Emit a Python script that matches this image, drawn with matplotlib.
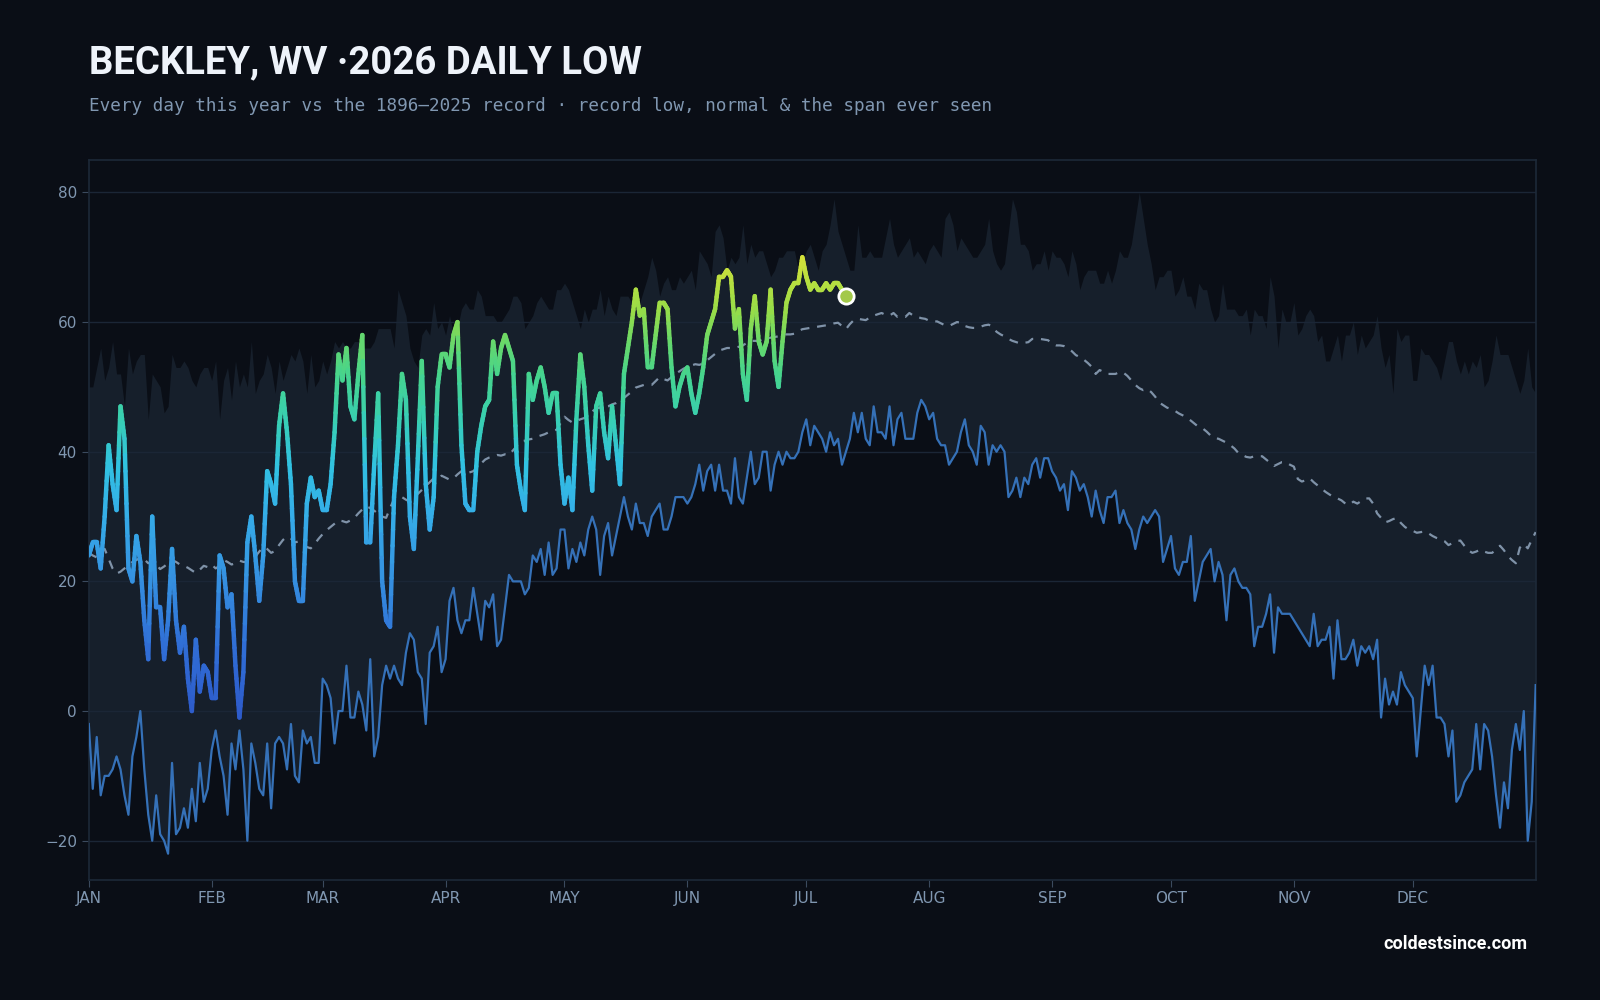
import matplotlib
matplotlib.use('Agg')
import matplotlib.pyplot as plt
import numpy as np
from matplotlib.collections import LineCollection
from matplotlib.colors import LinearSegmentedColormap, Normalize

# record lows by calendar day (1896-2025)
record_low = [
    -2, -12, -4, -13, -10, -10, -9, -7, -9, -13,
    -16, -7, -4, 0, -9, -16, -20, -13, -19, -20,
    -22, -8, -19, -18, -15, -18, -12, -17, -8, -14,
    -12, -6, -3, -7, -10, -16, -5, -9, -3, -9,
    -20, -5, -8, -12, -13, -5, -15, -5, -4, -5,
    -9, -2, -10, -11, -3, -5, -4, -8, -8, 5,
    4, 2, -5, 0, 0, 7, -1, -1, 3, 1,
    -3, 8, -7, -4, 4, 7, 5, 7, 5, 4,
    9, 12, 11, 6, 5, -2, 9, 10, 13, 6,
    8, 17, 19, 14, 12, 14, 14, 19, 15, 11,
    17, 16, 18, 10, 11, 16, 21, 20, 20, 20,
    18, 19, 24, 23, 25, 21, 26, 21, 22, 28,
    28, 22, 25, 23, 26, 24, 28, 30, 28, 21,
    27, 29, 24, 27, 30, 33, 30, 28, 32, 29,
    29, 27, 30, 31, 32, 28, 28, 30, 33, 33,
    33, 32, 33, 35, 38, 34, 37, 38, 34, 38,
    34, 34, 32, 39, 33, 32, 36, 40, 35, 36,
    40, 40, 34, 38, 40, 38, 40, 39, 39, 40,
    43, 45, 41, 44, 43, 42, 40, 43, 41, 42,
    38, 40, 42, 46, 43, 46, 42, 41, 47, 43,
    43, 42, 47, 41, 45, 46, 42, 42, 42, 46,
    48, 47, 45, 46, 42, 41, 41, 38, 39, 40,
    43, 45, 41, 40, 38, 44, 43, 38, 41, 40,
    41, 40, 33, 34, 36, 33, 36, 35, 38, 39,
    36, 39, 39, 37, 36, 34, 35, 31, 37, 36,
    34, 35, 33, 30, 34, 31, 29, 33, 33, 34,
    29, 31, 29, 28, 25, 28, 30, 29, 30, 31,
    30, 23, 25, 27, 22, 21, 23, 23, 27, 17,
    20, 23, 24, 25, 20, 23, 21, 14, 21, 22,
    20, 19, 19, 18, 10, 13, 13, 15, 18, 9,
    16, 15, 15, 15, 14, 13, 12, 11, 10, 15,
    10, 11, 11, 13, 5, 14, 8, 8, 9, 11,
    7, 10, 9, 10, 8, 11, -1, 5, 1, 3,
    1, 6, 4, 3, 2, -7, 0, 7, 4, 7,
    -1, -1, -2, -7, -3, -14, -13, -11, -10, -9,
    -2, -9, -2, -3, -7, -13, -18, -11, -15, -6,
    -2, -6, 0, -20, -14, 4,
]

# record highs of the daily low
record_high = [
    50, 50, 53, 56, 51, 53, 57, 52, 52, 47,
    56, 52, 54, 55, 55, 45, 52, 51, 50, 46,
    47, 55, 53, 53, 54, 53, 51, 50, 52, 53,
    53, 51, 54, 45, 51, 53, 48, 54, 50, 52,
    50, 57, 49, 51, 52, 55, 53, 49, 54, 51,
    53, 55, 54, 56, 54, 49, 55, 50, 51, 54,
    52, 54, 57, 56, 57, 56, 56, 57, 57, 56,
    56, 56, 57, 59, 59, 59, 59, 56, 65, 63,
    61, 56, 54, 53, 58, 59, 58, 63, 59, 60,
    58, 61, 58, 59, 62, 63, 62, 62, 65, 64,
    61, 61, 61, 60, 60, 61, 62, 64, 64, 63,
    59, 60, 61, 63, 64, 63, 62, 62, 65, 65,
    66, 65, 63, 61, 59, 62, 60, 62, 62, 65,
    61, 64, 62, 61, 64, 64, 64, 63, 62, 63,
    65, 67, 70, 68, 64, 66, 67, 65, 65, 67,
    66, 67, 68, 65, 71, 70, 69, 67, 74, 75,
    73, 68, 70, 69, 70, 75, 69, 72, 70, 71,
    71, 69, 67, 68, 70, 70, 71, 71, 71, 68,
    69, 71, 72, 70, 68, 71, 72, 75, 79, 74,
    72, 70, 68, 68, 75, 70, 70, 71, 70, 70,
    70, 73, 76, 72, 70, 71, 72, 73, 70, 71,
    70, 69, 71, 72, 71, 70, 76, 77, 75, 71,
    73, 72, 71, 70, 70, 71, 72, 76, 71, 69,
    68, 69, 74, 79, 77, 72, 72, 71, 68, 69,
    69, 71, 68, 71, 70, 70, 69, 67, 71, 69,
    65, 67, 68, 68, 68, 66, 66, 68, 66, 68,
    71, 70, 70, 72, 76, 80, 76, 72, 69, 65,
    67, 67, 68, 68, 64, 65, 67, 64, 64, 62,
    66, 65, 65, 62, 60, 61, 66, 62, 62, 62,
    61, 61, 62, 58, 62, 61, 61, 59, 67, 64,
    56, 62, 60, 60, 63, 58, 59, 61, 62, 61,
    57, 58, 54, 54, 56, 58, 54, 58, 58, 60,
    55, 58, 56, 57, 58, 61, 56, 53, 55, 49,
    59, 57, 58, 58, 51, 51, 56, 55, 55, 54,
    53, 51, 54, 57, 57, 54, 52, 54, 52, 54,
    53, 55, 50, 51, 54, 58, 55, 55, 55, 53,
    51, 49, 51, 56, 50, 49,
]

# normal daily low
normal = [
    24.4, 24.0, 23.7, 24.5, 25.0, 23.5, 22.0, 21.2, 21.5, 22.0,
    22.4, 23.0, 23.3, 23.6, 23.4, 22.8, 23.1, 22.6, 21.9, 22.3,
    22.8, 23.3, 23.0, 22.6, 22.4, 22.1, 21.7, 21.3, 21.8, 22.4,
    22.2, 22.6, 22.0, 22.4, 23.3, 23.0, 22.6, 22.8, 23.2, 23.0,
    23.0, 23.4, 23.8, 24.6, 25.3, 25.0, 24.4, 24.7, 25.6, 26.4,
    26.9, 26.6, 26.0, 26.2, 25.8, 25.3, 25.1, 25.8, 26.6, 27.3,
    27.9, 28.4, 28.9, 29.4, 29.3, 29.1, 29.4, 29.8, 30.5, 31.1,
    31.6, 31.3, 30.9, 30.4, 30.0, 29.8, 31.3, 32.7, 32.9, 33.0,
    32.6, 32.3, 32.9, 33.5, 34.1, 34.7, 35.3, 35.9, 35.8, 36.3,
    36.0, 35.7, 35.9, 36.5, 37.0, 37.1, 36.8, 37.0, 37.6, 38.2,
    38.8, 39.1, 39.3, 39.5, 39.4, 39.6, 39.5, 40.2, 40.9, 41.6,
    41.7, 41.9, 42.0, 42.3, 42.5, 42.7, 43.0, 43.2, 43.4, 44.4,
    45.4, 44.9, 44.5, 44.7, 45.0, 45.2, 45.7, 46.2, 46.7, 46.8,
    46.9, 47.0, 47.3, 47.5, 47.9, 48.3, 48.8, 49.3, 49.9, 50.1,
    50.3, 50.3, 50.3, 50.9, 51.5, 51.2, 51.0, 51.5, 52.0, 52.4,
    52.8, 53.1, 53.3, 53.5, 53.4, 53.6, 54.1, 54.6, 55.1, 55.6,
    55.8, 56.0, 56.0, 56.0, 56.2, 56.4, 56.8, 57.1, 57.1, 57.1,
    57.3, 57.4, 57.6, 57.7, 57.8, 58.0, 58.1, 58.1, 58.2, 58.6,
    58.9, 59.0, 59.1, 59.2, 59.3, 59.4, 59.5, 59.6, 59.8, 59.9,
    59.4, 58.9, 59.7, 60.3, 60.5, 60.4, 60.3, 60.7, 61.0, 61.2,
    61.4, 61.1, 61.0, 61.4, 60.8, 60.9, 60.8, 61.4, 61.0, 60.8,
    60.6, 60.5, 60.2, 60.1, 60.1, 59.8, 59.5, 59.4, 59.7, 60.0,
    59.9, 59.4, 59.2, 59.1, 59.1, 59.3, 59.5, 59.6, 59.3, 58.5,
    58.1, 57.8, 57.4, 57.1, 56.9, 56.7, 56.8, 56.9, 57.4, 57.4,
    57.4, 57.3, 57.2, 56.6, 56.4, 56.4, 56.3, 56.0, 55.5, 54.9,
    54.6, 54.2, 53.7, 53.1, 52.0, 52.6, 52.3, 52.0, 52.0, 52.0,
    52.3, 52.2, 51.7, 51.0, 50.3, 49.8, 49.5, 49.7, 49.2, 48.5,
    47.6, 47.2, 46.8, 46.6, 46.3, 45.9, 45.6, 45.2, 44.8, 44.3,
    43.8, 43.6, 43.1, 42.5, 42.1, 42.0, 41.7, 41.4, 41.0, 40.5,
    39.8, 39.5, 39.2, 39.1, 39.3, 39.3, 39.3, 38.8, 38.3, 37.8,
    38.1, 38.4, 38.4, 38.0, 37.7, 35.8, 35.4, 35.6, 35.9, 35.3,
    34.8, 34.3, 33.8, 33.4, 33.0, 32.8, 32.5, 32.0, 31.8, 32.3,
    32.0, 32.4, 32.8, 32.8, 32.0, 30.5, 29.8, 29.1, 29.3, 29.6,
    29.8, 29.0, 28.4, 28.0, 27.8, 27.5, 27.6, 27.7, 27.4, 27.0,
    26.7, 26.5, 26.2, 25.6, 25.9, 26.2, 26.3, 25.5, 24.8, 24.4,
    24.6, 24.9, 24.6, 24.4, 24.4, 24.9, 25.5, 24.8, 23.9, 23.3,
    22.8, 25.2, 25.8, 25.1, 26.4, 27.6,
]

# 2026 daily lows so far (Jan 1 - Jul 11)
low_2026 = [
    24, 26, 26, 22, 30, 41, 35, 31, 47, 42,
    22, 20, 27, 23, 14, 8, 30, 16, 16, 8,
    14, 25, 14, 9, 13, 5, 0, 11, 3, 7,
    6, 2, 2, 24, 22, 16, 18, 7, -1, 6,
    26, 30, 24, 17, 24, 37, 35, 32, 44, 49,
    43, 35, 20, 17, 17, 32, 36, 33, 34, 31,
    31, 35, 43, 55, 51, 56, 47, 45, 52, 58,
    26, 26, 38, 49, 20, 14, 13, 33, 41, 52,
    48, 30, 25, 39, 54, 35, 28, 33, 50, 55,
    55, 53, 58, 60, 41, 32, 31, 31, 40, 44,
    47, 48, 57, 52, 56, 58, 56, 54, 38, 34,
    31, 52, 48, 51, 53, 50, 46, 49, 49, 38,
    32, 36, 31, 45, 55, 50, 41, 34, 47, 49,
    43, 39, 47, 41, 35, 52, 56, 60, 65, 61,
    62, 53, 53, 58, 63, 63, 62, 53, 47, 50,
    52, 53, 49, 46, 49, 53, 58, 60, 62, 67,
    67, 68, 67, 59, 62, 52, 48, 59, 64, 57,
    55, 57, 65, 54, 50, 57, 63, 65, 66, 66,
    70, 67, 65, 66, 65, 65, 66, 65, 66, 66,
    65, 64,
]

month_start = [0, 31, 59, 90, 120, 151, 181, 212, 243, 273, 304, 334]
month_names = ['JAN', 'FEB', 'MAR', 'APR', 'MAY', 'JUN',
               'JUL', 'AUG', 'SEP', 'OCT', 'NOV', 'DEC']

# colour ramp for this year's line (value -> colour)
ramp_vals = [-2, 10, 20, 30, 38, 45, 52, 57, 62, 70]
ramp_cols = ['#2d58c8', '#306ed6', '#3590e0', '#35ace8', '#31c2e2',
             '#38cfb2', '#46d48e', '#68d86a', '#98dc48', '#d4e23a']

bg = '#0a0e16'
label_col = '#8097b1'

fig = plt.figure(figsize=(16, 10), dpi=100, facecolor=bg)
ax = fig.add_axes([0.0555, 0.1204, 0.9043, 0.7196])
ax.set_facecolor(bg)

days = np.arange(len(record_low))

# span ever seen
ax.fill_between(days, record_low, record_high, color='#161f2b', lw=0, zorder=1)

for y in [-20, 0, 20, 40, 60, 80]:
    ax.axhline(y, color='#1b2636', lw=1, zorder=2)

ax.plot(days, record_low, color='#3571b8', lw=1.6, zorder=3)
ax.plot(days, normal, color='#7f92a8', lw=1.6, ls=(0, (4, 3.5)), zorder=3)

# this year, coloured by temperature
vmin, vmax = ramp_vals[0], ramp_vals[-1]
cmap = LinearSegmentedColormap.from_list(
    'lowtemp', [((v - vmin) / (vmax - vmin), c) for v, c in zip(ramp_vals, ramp_cols)])
norm = Normalize(vmin=vmin, vmax=vmax)

x26 = np.arange(len(low_2026), dtype=float)
y26 = np.array(low_2026, dtype=float)
# split each day-to-day segment into short pieces so the colour shades along it
t = np.linspace(0, 1, 9)
segs, seg_vals = [], []
for i in range(len(x26) - 1):
    xs = x26[i] + t * (x26[i + 1] - x26[i])
    ys = y26[i] + t * (y26[i + 1] - y26[i])
    for j in range(len(t) - 1):
        segs.append([(xs[j], ys[j]), (xs[j + 1], ys[j + 1])])
        seg_vals.append((ys[j] + ys[j + 1]) / 2)
lc = LineCollection(segs, colors=cmap(norm(seg_vals)),
                    linewidths=3.2, capstyle='round', joinstyle='round', zorder=5)
ax.add_collection(lc)

ax.plot(x26[-1], y26[-1], 'o', ms=11, mfc='#a3c94a', mec='white', mew=2, zorder=6)

ax.set_xlim(0, 365)
ax.set_ylim(-26, 85)
ax.set_xticks(month_start)
ax.set_xticklabels(month_names)
ax.set_yticks([-20, 0, 20, 40, 60, 80])
ax.tick_params(colors='#3b4a5e', labelcolor=label_col, labelsize=11, length=5)
for s in ax.spines.values():
    s.set_color('#1d2938')
    s.set_linewidth(1.2)

fig.text(0.0555, 0.937, 'BECKLEY, WV \u00b72026 DAILY LOW', fontsize=27.5,
         fontweight='bold', color='#eef3fa', family='Roboto', va='center')
fig.text(0.0555, 0.894,
         'Every day this year vs the 1896\u20132025 record \u00b7 record low, normal & the span ever seen',
         fontsize=12.7, color=label_col, family='DejaVu Sans Mono', va='center')
fig.text(0.9547, 0.056, 'coldestsince.com', fontsize=13, fontweight='bold',
         color='white', family='Roboto', ha='right', va='center')

fig.savefig('out.png', dpi=100, facecolor=bg)
